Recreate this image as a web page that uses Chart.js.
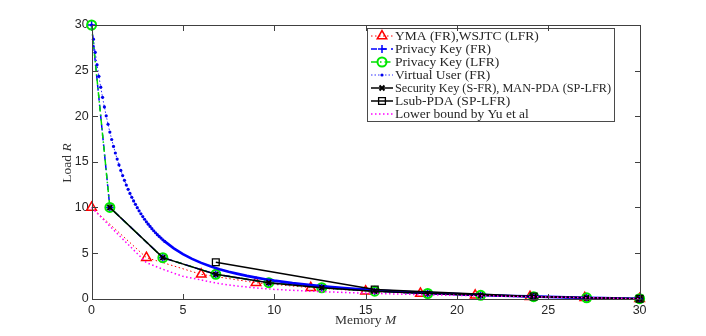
<!DOCTYPE html>
<html>
<head>
<meta charset="utf-8">
<script src="https://cdn.jsdelivr.net/npm/chart.js@4.4.0/dist/chart.umd.min.js"></script>
<style>
  html, body { margin: 0; padding: 0; background: #fff; }
  #wrap { position: relative; width: 706px; height: 336px; }
  #wrap canvas { position: absolute; left: 0; top: 0; }
  .axl { position: absolute; background: #404040; pointer-events: none; }
</style>
</head>
<body>
<div id="wrap"><canvas id="myChart" width="706" height="336"></canvas></div>
<script>
// Ejes y etiquetas
const memoryTicks = [0, 5, 10, 15, 20, 25, 30];
const loadTicks = [0, 5, 10, 15, 20, 25, 30];
const seriesNames = [
  'YMA (FR),WSJTC (LFR)',
  'Privacy Key (FR)',
  'Privacy Key (LFR)',
  'Virtual User (FR)',
  'Security Key (S-FR), MAN-PDA (SP-LFR)',
  'Lsub-PDA (SP-LFR)',
  'Lower bound by Yu et al'
];

// YMA
const ymaM = [0, 3, 6, 9, 12, 15, 18, 21, 24, 27, 30];
const ymaR = [10, 4.5, 2.67, 1.75, 1.2, 0.83, 0.57, 0.375, 0.22, 0.1, 0];

// Privacy key (FR y LFR)
const pkM = [0, 1, 3.9, 6.8, 9.7, 12.6, 15.5, 18.4, 21.3, 24.2, 27.1, 30];
const pkR = [30, 10, 4.5, 2.67, 1.75, 1.2, 0.83, 0.57, 0.375, 0.22, 0.1, 0];

// Virtual user
const vuM = [0, 0.1, 0.2, 0.3, 0.4, 0.5, 0.6, 0.7, 0.8, 0.9, 1.0,
  1.1, 1.2, 1.3, 1.4, 1.5, 1.6, 1.7, 1.8, 1.9, 2.0,
  2.1, 2.2, 2.3, 2.4, 2.5, 2.6, 2.7, 2.8, 2.9, 3.0,
  3.1, 3.2, 3.3, 3.4, 3.5, 3.6, 3.7, 3.8, 3.9, 4.0,
  4.5, 5, 5.5, 6, 6.5, 7, 7.5, 8, 8.5, 9, 9.5, 10,
  11, 12, 13, 14, 15, 16, 17, 18, 19, 20, 21, 22, 23, 24, 25, 26, 27, 28, 29, 30];
const vuR = [30, 28.45, 27.00, 25.64, 24.37, 23.18, 22.07, 21.02, 20.04, 19.12, 18.26,
  17.45, 16.69, 15.97, 15.30, 14.66, 14.06, 13.50, 12.97, 12.46, 11.99,
  11.54, 11.12, 10.72, 10.34, 9.98, 9.63, 9.31, 9.00, 8.71, 8.43,
  8.17, 7.92, 7.68, 7.45, 7.23, 7.02, 6.83, 6.64, 6.45, 6.28,
  5.52, 4.89, 4.37, 3.93, 3.56, 3.24, 2.96, 2.72, 2.50, 2.31, 2.14, 1.98,
  1.71, 1.49, 1.30, 1.13, 0.99, 0.87, 0.76, 0.66, 0.58, 0.50, 0.43, 0.36, 0.30, 0.25, 0.20, 0.15, 0.11, 0.07, 0.03, 0];

// Security key / MAN-PDA
const skM = [1, 3.9, 6.8, 9.7, 12.6, 15.5, 18.4, 21.3, 24.2, 27.1, 30];
const skR = [10, 4.5, 2.67, 1.75, 1.2, 0.83, 0.57, 0.375, 0.22, 0.1, 0];

// Lsub-PDA
const lsubM = [6.8, 15.5, 24.2, 30];
const lsubR = [4, 1, 0.25, 0];

// Cota inferior
const lbM = [0, 1, 2, 3, 4, 5, 6, 7, 8, 9, 10, 12, 14, 16, 18, 20, 22, 24, 26, 28, 30];
const lbR = [10, 7.95, 5.95, 3.95, 3.15, 2.45, 2.05, 1.65, 1.38, 1.18, 1.02, 0.82, 0.67, 0.55, 0.45, 0.36, 0.29, 0.22, 0.15, 0.08, 0];

function pts(xs, ys) {
  return xs.map((x, i) => ({ x: x, y: ys[i] }));
}

const VU_SPLIT = 4; // a partir de aqui los puntos se juntan en una linea gruesa

const datasets = [
  {
    label: seriesNames[0], data: pts(ymaM, ymaR), order: 7,
    borderColor: '#ff0000', borderWidth: 1, borderDash: [1.5, 2.5],
    pointStyle: 'triangle', pointRadius: 5.5, pointBorderColor: '#ff0000',
    pointBackgroundColor: 'rgba(0,0,0,0)', pointBorderWidth: 1.5
  },
  {
    label: seriesNames[1], data: pts(pkM, pkR), order: 6,
    borderColor: '#0000ff', borderWidth: 1.5, borderDash: [6, 4],
    pointStyle: 'cross', pointRadius: 4, pointBorderColor: '#0000ff',
    pointBackgroundColor: 'rgba(0,0,0,0)', pointBorderWidth: 1.5
  },
  {
    label: seriesNames[2], data: pts(pkM, pkR), order: 5,
    borderColor: '#00dd00', borderWidth: 1.5, borderDash: [6, 3, 1.5, 3],
    pointStyle: 'circle', pointRadius: 4.5, pointBorderColor: '#00e800',
    pointBackgroundColor: 'rgba(0,0,0,0)', pointBorderWidth: 2
  },
  {
    label: seriesNames[3], data: pts(vuM, vuR), order: 4,
    borderColor: '#3030ff', borderWidth: 1, borderDash: [1.5, 2],
    pointStyle: 'circle', pointBorderWidth: 0,
    pointBackgroundColor: '#0000ee', pointBorderColor: '#0000ee',
    pointRadius: c => (c.raw && c.raw.x <= VU_SPLIT ? 1.6 : 0),
    segment: {
      borderDash: c => (c.p0.parsed.x >= VU_SPLIT ? [] : [1.5, 2]),
      borderWidth: c => (c.p0.parsed.x >= VU_SPLIT ? 2.6 : 1),
      borderColor: c => (c.p0.parsed.x >= VU_SPLIT ? '#0000ff' : '#3030ff')
    },
    legendRadius: 1.6
  },
  {
    label: seriesNames[4], data: pts(skM, skR), order: 3,
    borderColor: '#000000', borderWidth: 1.5,
    pointStyle: 'crossRot', pointRadius: 3.5, pointBorderColor: '#000000',
    pointBackgroundColor: 'rgba(0,0,0,0)', pointBorderWidth: 2
  },
  {
    label: seriesNames[5], data: pts(lsubM, lsubR), order: 2,
    borderColor: '#000000', borderWidth: 1.5,
    pointStyle: 'rect', pointRadius: 4.8, pointBorderColor: '#000000',
    pointBackgroundColor: 'rgba(0,0,0,0)', pointBorderWidth: 1.3
  },
  {
    label: seriesNames[6], data: pts(lbM, lbR), order: 1,
    borderColor: '#ff00ff', borderWidth: 1.5, borderDash: [1.5, 2.5],
    pointRadius: 0
  }
];
datasets.forEach(d => { d.clip = false; d.fill = false; d.tension = 0; });

// Titulos de ejes (con la variable en cursiva)
const axisTitles = {
  id: 'axisTitles',
  afterDraw(chart) {
    const c = chart.ctx;
    const a = chart.chartArea;
    c.save();
    c.fillStyle = '#333';
    c.textBaseline = 'middle';
    c.textAlign = 'left';
    const f1 = '13.5px "Liberation Serif"', f2 = 'italic 13.5px "Liberation Serif"';
    c.font = f1; const w1 = c.measureText('Memory ').width;
    c.font = f2; const w2 = c.measureText('M').width;
    let x0 = (a.left + a.right) / 2 - (w1 + w2) / 2;
    c.font = f1; c.fillText('Memory ', x0, 320);
    c.font = f2; c.fillText('M', x0 + w1, 320);
    c.translate(67, 163);
    c.rotate(-Math.PI / 2);
    c.font = f1; const w3 = c.measureText('Load ').width;
    c.font = f2; const w4 = c.measureText('R').width;
    x0 = -(w3 + w4) / 2;
    c.font = f1; c.fillText('Load ', x0, 0);
    c.font = f2; c.fillText('R', x0 + w3, 0);
    c.restore();
  }
};

// Leyenda dentro del area (como matlab)
const boxLegend = {
  id: 'boxLegend',
  afterDraw(chart) {
    const c = chart.ctx;
    const bx = 367.5, by = 28.5, bw = 247, bh = 93;
    c.save();
    c.fillStyle = '#fff';
    c.fillRect(bx, by, bw, bh);
    c.strokeStyle = '#4a4a4a';
    c.lineWidth = 1;
    c.strokeRect(bx, by, bw, bh);
    c.font = '13.5px "Liberation Serif"';
    c.textBaseline = 'middle';
    c.textAlign = 'left';
    chart.data.datasets.forEach((d, i) => {
      const y = 36 + i * 13;
      c.save();
      c.strokeStyle = d.borderColor;
      c.lineWidth = Math.min(d.borderWidth, 1.5);
      c.setLineDash(d.borderDash || []);
      c.beginPath();
      c.moveTo(371, y); c.lineTo(393, y);
      c.stroke();
      c.setLineDash([]);
      const r = d.legendRadius || d.pointRadius;
      if (r > 0) {
        c.strokeStyle = d.pointBorderColor;
        c.fillStyle = d.pointBackgroundColor;
        c.lineWidth = d.pointBorderWidth;
        Chart.helpers.drawPoint(c, { pointStyle: d.pointStyle, radius: r, rotation: 0, borderWidth: d.pointBorderWidth }, 382, y);
      }
      c.restore();
      c.fillStyle = '#262626';
      c.fillText(d.label, 395, y + 0.5, 216);
    });
    c.restore();
  }
};

const canvasEl = document.getElementById('myChart');
const myChart = new Chart(canvasEl, {
  type: 'line',
  data: { datasets: datasets },
  options: {
    responsive: false,
    animation: false,
    devicePixelRatio: 1,
    layout: { padding: { left: 0, top: 25, right: 66.4, bottom: 0 } },
    plugins: { legend: { display: false }, tooltip: { enabled: false } },
    scales: {
      x: {
        type: 'linear', min: 0, max: 30,
        afterFit: s => { s.height = 37.3; },
        afterBuildTicks: s => { s.ticks = memoryTicks.map(v => ({ value: v })); },
        grid: { display: false, drawTicks: false },
        border: { display: false },
        ticks: { padding: 4, color: '#262626', font: { family: '"Liberation Sans"', size: 12.5 }, maxRotation: 0 }
      },
      y: {
        type: 'linear', min: 0, max: 30,
        afterFit: s => { s.width = 91.6; },
        afterBuildTicks: s => { s.ticks = loadTicks.map(v => ({ value: v })); },
        grid: { display: false, drawTicks: false },
        border: { display: false },
        ticks: { padding: 3, color: '#262626', font: { family: '"Liberation Sans"', size: 12.5 } }
      }
    }
  },
  plugins: [axisTitles, boxLegend]
});

// Caja de ejes y marcas hacia adentro, encima del canvas
const wrap = document.getElementById('wrap');
function axLine(x, y, w, h) {
  const d = document.createElement('div');
  d.className = 'axl';
  d.style.left = x + 'px'; d.style.top = y + 'px';
  d.style.width = w + 'px'; d.style.height = h + 'px';
  wrap.appendChild(d);
}
const area = myChart.chartArea;
const L = Math.round(area.left), R = Math.round(area.right);
const T = Math.round(area.top), B = Math.round(area.bottom);
axLine(L, T, R - L + 1, 1);
axLine(L, B, R - L + 1, 1);
axLine(L, T, 1, B - T + 1);
axLine(R, T, 1, B - T + 1);
memoryTicks.forEach(v => {
  const px = Math.round(myChart.scales.x.getPixelForValue(v));
  axLine(px, B - 5, 1, 5);
  axLine(px, T + 1, 1, 5);
});
loadTicks.forEach(v => {
  const py = Math.round(myChart.scales.y.getPixelForValue(v));
  axLine(L + 1, py, 5, 1);
  axLine(R - 5, py, 5, 1);
});
</script>
</body>
</html>
